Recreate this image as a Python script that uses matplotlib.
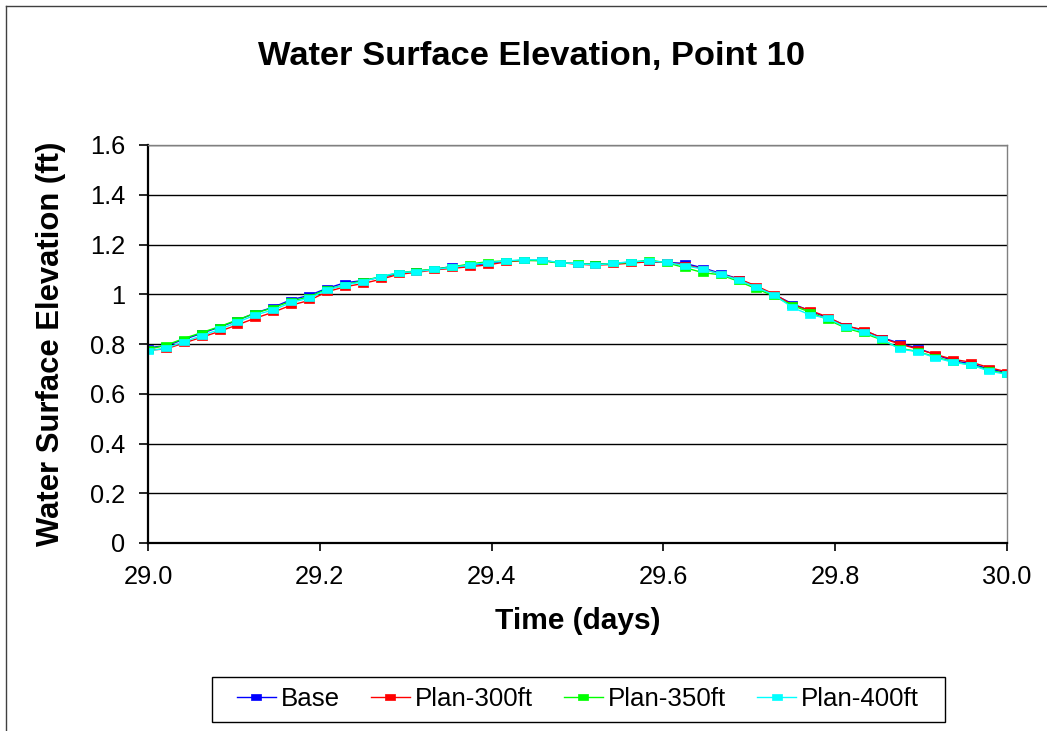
import numpy as np
import matplotlib
matplotlib.use('Agg')
import matplotlib.pyplot as plt
from matplotlib.path import Path
from matplotlib.lines import Line2D
from matplotlib.patches import Rectangle

plt.rcParams['font.family'] = ['Liberation Sans', 'DejaVu Sans']

# half hour steps over day 29
hours = [0.0, 0.5, 1.0, 1.5, 2.0, 2.5, 3.0, 3.5, 4.0, 4.5, 5.0, 5.5, 6.0, 6.5, 7.0, 7.5,
         8.0, 8.5, 9.0, 9.5, 10.0, 10.5, 11.0, 11.5, 12.0, 12.5, 13.0, 13.5, 14.0, 14.5,
         15.0, 15.5, 16.0, 16.5, 17.0, 17.5, 18.0, 18.5, 19.0, 19.5, 20.0, 20.5, 21.0,
         21.5, 22.0, 22.5, 23.0, 23.5, 24.0]
dia = 29.0
tiempo = dia + np.array(hours) / 24.0

base = [0.785, 0.793, 0.818, 0.843, 0.868, 0.895, 0.925, 0.948, 0.978, 0.995,
        1.024, 1.046, 1.055, 1.068, 1.084, 1.093, 1.100, 1.112, 1.116, 1.124,
        1.132, 1.137, 1.136, 1.126, 1.123, 1.120, 1.124, 1.129, 1.131, 1.128,
        1.124, 1.106, 1.084, 1.062, 1.030, 0.998, 0.962, 0.933, 0.905, 0.874,
        0.853, 0.826, 0.803, 0.783, 0.757, 0.733, 0.720, 0.700, 0.685]
plan300 = [0.775, 0.780, 0.804, 0.827, 0.851, 0.877, 0.904, 0.928, 0.956, 0.975,
           1.010, 1.030, 1.043, 1.060, 1.080, 1.088, 1.098, 1.104, 1.111, 1.118,
           1.130, 1.136, 1.136, 1.127, 1.121, 1.117, 1.120, 1.125, 1.131, 1.128,
           1.118, 1.103, 1.080, 1.062, 1.033, 1.000, 0.958, 0.935, 0.908, 0.872,
           0.857, 0.824, 0.800, 0.780, 0.758, 0.738, 0.727, 0.705, 0.688]
plan350 = [0.778, 0.795, 0.822, 0.846, 0.870, 0.897, 0.924, 0.946, 0.972, 0.990,
           1.020, 1.037, 1.055, 1.070, 1.086, 1.094, 1.101, 1.110, 1.122, 1.131,
           1.134, 1.136, 1.135, 1.125, 1.124, 1.120, 1.124, 1.128, 1.138, 1.126,
           1.107, 1.087, 1.078, 1.052, 1.022, 0.992, 0.955, 0.928, 0.897, 0.864,
           0.843, 0.817, 0.783, 0.770, 0.748, 0.728, 0.716, 0.695, 0.680]
plan400 = [0.772, 0.783, 0.809, 0.833, 0.859, 0.887, 0.917, 0.937, 0.967, 0.984,
           1.017, 1.037, 1.050, 1.071, 1.087, 1.091, 1.100, 1.108, 1.118, 1.127,
           1.134, 1.139, 1.138, 1.127, 1.123, 1.118, 1.124, 1.131, 1.134, 1.128,
           1.115, 1.101, 1.081, 1.058, 1.028, 0.997, 0.947, 0.917, 0.903, 0.867,
           0.849, 0.820, 0.780, 0.769, 0.745, 0.726, 0.716, 0.691, 0.678]

nombres = ['Base', 'Plan-300ft', 'Plan-350ft', 'Plan-400ft']
colores = ['#0000FF', '#FF0000', '#00FF00', '#00FFFF']
xticks = [29.0, 29.2, 29.4, 29.6, 29.8, 30.0]
yticks = [0, 0.2, 0.4, 0.6, 0.8, 1.0, 1.2, 1.4, 1.6]
ylabels = ['0', '0.2', '0.4', '0.6', '0.8', '1', '1.2', '1.4', '1.6']

# marcador rectangular tipo excel
rect = Path([(-1, -0.5), (1, -0.5), (1, 0.5), (-1, 0.5), (-1, -0.5)],
            [Path.MOVETO, Path.LINETO, Path.LINETO, Path.LINETO, Path.CLOSEPOLY])

fig = plt.figure(figsize=(10.47, 7.31), dpi=100)
ax = fig.add_axes([148/1047, 188/731, 859/1047, 398/731])

for serie, nom, col in zip([base, plan300, plan350, plan400], nombres, colores):
    ax.plot(tiempo, serie, color=col, lw=1.0, marker=rect, markersize=7.5,
            markerfacecolor=col, markeredgecolor=col, markeredgewidth=0.5, label=nom)

ax.set_xlim(29.0, 30.0)
ax.set_ylim(0, 1.6)
ax.set_xticks(xticks)
ax.set_xticklabels(['%.1f' % t for t in xticks])
ax.set_yticks(yticks)
ax.set_yticklabels(ylabels)
ax.yaxis.grid(True, color='black', lw=1.0)
ax.set_axisbelow(True)

ax.spines['left'].set_linewidth(1.6)
ax.spines['bottom'].set_linewidth(1.6)
ax.spines['top'].set_color('#808080')
ax.spines['right'].set_color('#808080')
ax.spines['top'].set_linewidth(1.0)
ax.spines['right'].set_linewidth(1.0)
ax.tick_params(axis='y', direction='out', length=6.5, width=1.2, labelsize=18.3, pad=10)
ax.tick_params(axis='x', direction='out', length=5.5, width=1.2, labelsize=18.3, pad=10)

ax.set_xlabel('Time (days)', fontsize=21.5, fontweight='bold', labelpad=13)
ax.set_ylabel('Water Surface Elevation (ft)', fontsize=22.3, fontweight='bold', labelpad=17)
fig.text(531/1047, 1 - 57/731, 'Water Surface Elevation, Point 10', fontsize=24.8,
         fontweight='bold', ha='center', va='center')

# leyenda sin marco, el marco va aparte (mas ancho, como excel)
leg = ax.legend(loc='center left', bbox_to_anchor=(237/1047, 1 - 699.5/731),
                bbox_transform=fig.transFigure, ncol=4, fontsize=18.6, frameon=False,
                handlelength=1.5, handletextpad=0.2, columnspacing=1.2,
                borderpad=0, borderaxespad=0)
fig.add_artist(Rectangle((212/1047, 1 - 722/731), 733/1047, 45/731, transform=fig.transFigure,
                         facecolor='none', edgecolor='black', lw=1.0))

# borde del grafico
ytop = 1 - 6/731
xleft = 6/1047
fig.add_artist(Line2D([xleft, 1.0], [ytop, ytop], transform=fig.transFigure, color='#404040', lw=1.0))
fig.add_artist(Line2D([xleft, xleft], [0.0, ytop], transform=fig.transFigure, color='#404040', lw=1.0))

plt.savefig('out.png', dpi=100)
